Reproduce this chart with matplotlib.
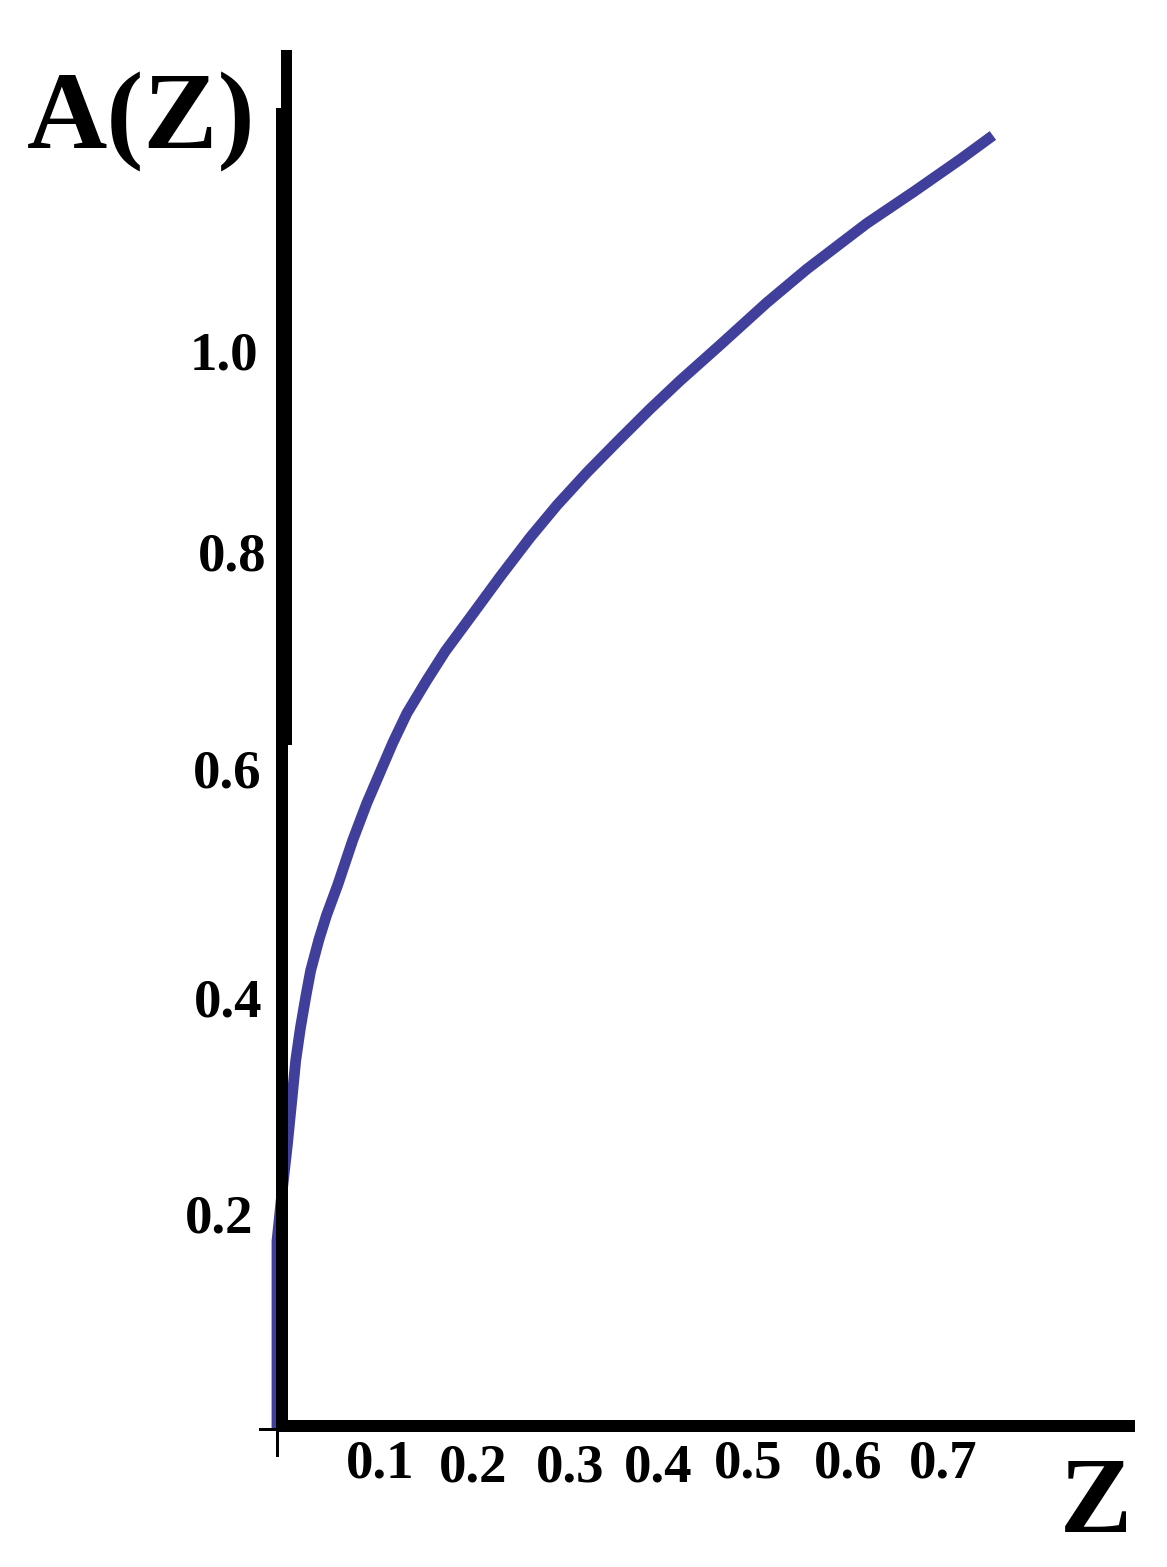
import matplotlib
matplotlib.use("Agg")
import matplotlib.pyplot as plt
from matplotlib.patches import Rectangle

# ---------------- data ----------------
z_values = [0.0, 0.0, 0.005, 0.011, 0.016, 0.020, 0.025, 0.031, 0.036, 0.045,
            0.053, 0.065, 0.081, 0.096, 0.110, 0.124, 0.139, 0.160, 0.180,
            0.210, 0.239, 0.271, 0.300, 0.332, 0.364, 0.399, 0.431, 0.474,
            0.524, 0.567, 0.631, 0.681, 0.731, 0.766]
a_values = [0.0, 0.174, 0.216, 0.262, 0.305, 0.340, 0.370, 0.400, 0.423, 0.452,
            0.474, 0.502, 0.543, 0.577, 0.605, 0.633, 0.660, 0.690, 0.717,
            0.752, 0.786, 0.822, 0.852, 0.882, 0.910, 0.940, 0.966, 0.999,
            1.038, 1.069, 1.111, 1.140, 1.170, 1.192]

x_tick_values = [0.1, 0.2, 0.3, 0.4, 0.5, 0.6, 0.7]
x_tick_labels = ["0.1", "0.2", "0.3", "0.4", "0.5", "0.6", "0.7"]
y_tick_values = [1.0, 0.8, 0.6, 0.4, 0.2]
y_tick_labels = ["1.0", "0.8", "0.6", "0.4", "0.2"]

y_title = "A(Z)"
x_title = "Z"

# ---------------- layout ----------------
W, H = 1167, 1567
DPI = 100
ORIGIN_PX = (277, 1430)       # pixel location of Z=0, A=0
KX, KY = 934.6, 1086.0        # pixels per unit
x_label_dx = [9.5, 9, 12.6, 7, 3.7, 10, 11.8]
x_label_dy = [-48, -52, -52, -52, -48, -48, -48]
y_label_dx = [-19, -10, -15, -15, -24]
y_label_dy = [-26, -9, -9, -21, -20]

CURVE_COLOR = "#40409c"
SERIF = ["Liberation Serif", "DejaVu Serif"]

fig = plt.figure(figsize=(W / DPI, H / DPI), dpi=DPI)
fig.patch.set_facecolor("white")
ax = fig.add_axes([0, 0, 1, 1])
ax.set_xlim(-ORIGIN_PX[0] / KX, (W - ORIGIN_PX[0]) / KX)
ax.set_ylim((ORIGIN_PX[1] - H) / KY, ORIGIN_PX[1] / KY)
ax.axis("off")


def px_rect(x0, y0, x1, y1, color="black", z=3):
    """Rectangle given in pixel coords (origin top-left)."""
    fig.patches.append(Rectangle((x0 / W, 1 - y1 / H), (x1 - x0) / W, (y1 - y0) / H,
                                 transform=fig.transFigure, facecolor=color,
                                 edgecolor="none", zorder=z))


# curve (drawn below the thick axis lines)
ax.plot(z_values, a_values, color=CURVE_COLOR, lw=7.8, solid_capstyle="butt",
        solid_joinstyle="round", zorder=2, clip_on=False)

# thick axis lines (hand drawn look)
px_rect(276, 745, 288, 1432)      # lower y-axis
px_rect(276, 108, 292, 745)       # middle y-axis
px_rect(281, 50, 292, 108)        # top y-axis
px_rect(276, 1420, 1135, 1432)    # x-axis
# small origin cross
px_rect(259, 1428, 289, 1431)
px_rect(276, 1430, 279, 1457)

# tick labels
for v, s, dx, dy in zip(x_tick_values, x_tick_labels, x_label_dx, x_label_dy):
    ax.annotate(s, xy=(v, 0), xytext=(dx, dy), textcoords="offset pixels",
                ha="center", va="baseline", fontsize=39.5, fontweight="bold",
                family=SERIF, annotation_clip=False)
for v, s, dx, dy in zip(y_tick_values, y_tick_labels, y_label_dx, y_label_dy):
    ax.annotate(s, xy=(0, v), xytext=(dx, dy), textcoords="offset pixels",
                ha="right", va="baseline", fontsize=39.5, fontweight="bold",
                family=SERIF, annotation_clip=False)

# axis titles
fig.text(27 / W, 1 - 148 / H, y_title, ha="left", va="baseline", fontsize=80,
         fontweight="bold", family=SERIF)
fig.text(1096 / W, 1 - 1532 / H, x_title, ha="center", va="baseline", fontsize=78,
         fontweight="bold", family=SERIF)

fig.savefig("out.png", dpi=DPI, facecolor="white")
